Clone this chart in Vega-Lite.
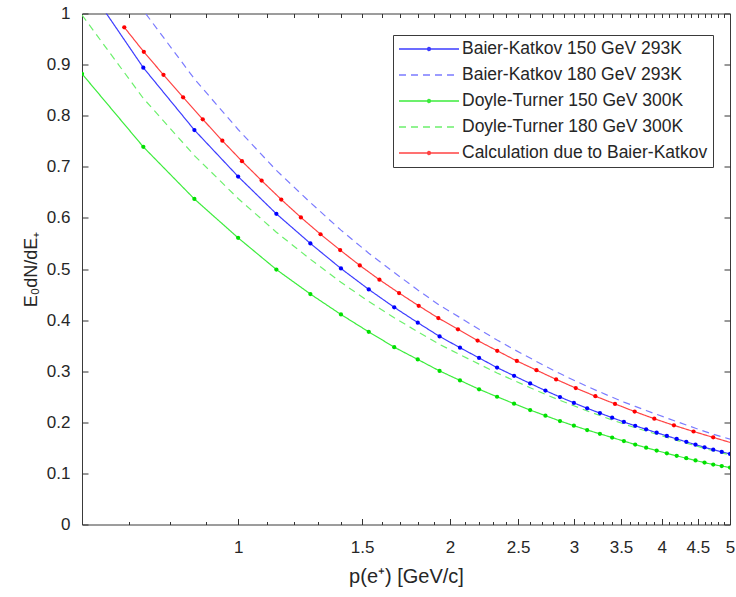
{
  "$schema": "https://vega.github.io/schema/vega-lite/v6.json",
  "width": 648,
  "height": 511,
  "autosize": {"type": "none"},
  "padding": {"left": 82, "top": 13.5, "right": 6, "bottom": 72.5},
  "background": "white",
  "config": {
    "view": {"stroke": "#3a3a3a", "strokeWidth": 1},
    "axis": {"grid": false, "domain": false, "tickColor": "#333333", "tickWidth": 1, "labelColor": "#262626", "labelFont": "Liberation Sans", "labelFontSize": 17, "titleFont": "Liberation Sans", "titleFontWeight": "normal", "titleColor": "#262626"}
  },
  "datasets": {
    "curves": [
      {"series": "Baier-Katkov 150 GeV 293K", "p": 0.6, "e": 1.07},
      {"series": "Baier-Katkov 150 GeV 293K", "p": 0.7333, "e": 0.894},
      {"series": "Baier-Katkov 150 GeV 293K", "p": 0.8667, "e": 0.772},
      {"series": "Baier-Katkov 150 GeV 293K", "p": 1.0, "e": 0.681},
      {"series": "Baier-Katkov 150 GeV 293K", "p": 1.1333, "e": 0.608},
      {"series": "Baier-Katkov 150 GeV 293K", "p": 1.2667, "e": 0.55},
      {"series": "Baier-Katkov 150 GeV 293K", "p": 1.4, "e": 0.501},
      {"series": "Baier-Katkov 150 GeV 293K", "p": 1.5333, "e": 0.46},
      {"series": "Baier-Katkov 150 GeV 293K", "p": 1.6667, "e": 0.425},
      {"series": "Baier-Katkov 150 GeV 293K", "p": 1.8, "e": 0.395},
      {"series": "Baier-Katkov 150 GeV 293K", "p": 1.9333, "e": 0.368},
      {"series": "Baier-Katkov 150 GeV 293K", "p": 2.0667, "e": 0.346},
      {"series": "Baier-Katkov 150 GeV 293K", "p": 2.2, "e": 0.326},
      {"series": "Baier-Katkov 150 GeV 293K", "p": 2.3333, "e": 0.307},
      {"series": "Baier-Katkov 150 GeV 293K", "p": 2.4667, "e": 0.291},
      {"series": "Baier-Katkov 150 GeV 293K", "p": 2.6, "e": 0.276},
      {"series": "Baier-Katkov 150 GeV 293K", "p": 2.7333, "e": 0.262},
      {"series": "Baier-Katkov 150 GeV 293K", "p": 2.8667, "e": 0.2495},
      {"series": "Baier-Katkov 150 GeV 293K", "p": 3.0, "e": 0.238},
      {"series": "Baier-Katkov 150 GeV 293K", "p": 3.1333, "e": 0.2274},
      {"series": "Baier-Katkov 150 GeV 293K", "p": 3.2667, "e": 0.218},
      {"series": "Baier-Katkov 150 GeV 293K", "p": 3.4, "e": 0.209},
      {"series": "Baier-Katkov 150 GeV 293K", "p": 3.5333, "e": 0.2006},
      {"series": "Baier-Katkov 150 GeV 293K", "p": 3.6667, "e": 0.1932},
      {"series": "Baier-Katkov 150 GeV 293K", "p": 3.8, "e": 0.1862},
      {"series": "Baier-Katkov 150 GeV 293K", "p": 3.9333, "e": 0.1796},
      {"series": "Baier-Katkov 150 GeV 293K", "p": 4.0667, "e": 0.1734},
      {"series": "Baier-Katkov 150 GeV 293K", "p": 4.2, "e": 0.1674},
      {"series": "Baier-Katkov 150 GeV 293K", "p": 4.3333, "e": 0.1617},
      {"series": "Baier-Katkov 150 GeV 293K", "p": 4.4667, "e": 0.1562},
      {"series": "Baier-Katkov 150 GeV 293K", "p": 4.6, "e": 0.151},
      {"series": "Baier-Katkov 150 GeV 293K", "p": 4.7333, "e": 0.1463},
      {"series": "Baier-Katkov 150 GeV 293K", "p": 4.8667, "e": 0.142},
      {"series": "Baier-Katkov 150 GeV 293K", "p": 5.0, "e": 0.138},
      {"series": "Baier-Katkov 180 GeV 293K", "p": 0.6, "e": 1.198},
      {"series": "Baier-Katkov 180 GeV 293K", "p": 0.7333, "e": 1.006},
      {"series": "Baier-Katkov 180 GeV 293K", "p": 0.8667, "e": 0.872},
      {"series": "Baier-Katkov 180 GeV 293K", "p": 1.0, "e": 0.773},
      {"series": "Baier-Katkov 180 GeV 293K", "p": 1.1333, "e": 0.693},
      {"series": "Baier-Katkov 180 GeV 293K", "p": 1.2667, "e": 0.63},
      {"series": "Baier-Katkov 180 GeV 293K", "p": 1.4, "e": 0.576},
      {"series": "Baier-Katkov 180 GeV 293K", "p": 1.5333, "e": 0.531},
      {"series": "Baier-Katkov 180 GeV 293K", "p": 1.6667, "e": 0.493},
      {"series": "Baier-Katkov 180 GeV 293K", "p": 1.8, "e": 0.459},
      {"series": "Baier-Katkov 180 GeV 293K", "p": 1.9333, "e": 0.429},
      {"series": "Baier-Katkov 180 GeV 293K", "p": 2.0667, "e": 0.405},
      {"series": "Baier-Katkov 180 GeV 293K", "p": 2.2, "e": 0.382},
      {"series": "Baier-Katkov 180 GeV 293K", "p": 2.3333, "e": 0.361},
      {"series": "Baier-Katkov 180 GeV 293K", "p": 2.4667, "e": 0.3425},
      {"series": "Baier-Katkov 180 GeV 293K", "p": 2.6, "e": 0.3257},
      {"series": "Baier-Katkov 180 GeV 293K", "p": 2.7333, "e": 0.3097},
      {"series": "Baier-Katkov 180 GeV 293K", "p": 2.8667, "e": 0.2954},
      {"series": "Baier-Katkov 180 GeV 293K", "p": 3.0, "e": 0.2823},
      {"series": "Baier-Katkov 180 GeV 293K", "p": 3.1333, "e": 0.2702},
      {"series": "Baier-Katkov 180 GeV 293K", "p": 3.2667, "e": 0.2594},
      {"series": "Baier-Katkov 180 GeV 293K", "p": 3.4, "e": 0.2491},
      {"series": "Baier-Katkov 180 GeV 293K", "p": 3.5333, "e": 0.2395},
      {"series": "Baier-Katkov 180 GeV 293K", "p": 3.6667, "e": 0.2311},
      {"series": "Baier-Katkov 180 GeV 293K", "p": 3.8, "e": 0.2231},
      {"series": "Baier-Katkov 180 GeV 293K", "p": 3.9333, "e": 0.2155},
      {"series": "Baier-Katkov 180 GeV 293K", "p": 4.0667, "e": 0.2084},
      {"series": "Baier-Katkov 180 GeV 293K", "p": 4.2, "e": 0.2014},
      {"series": "Baier-Katkov 180 GeV 293K", "p": 4.3333, "e": 0.1948},
      {"series": "Baier-Katkov 180 GeV 293K", "p": 4.4667, "e": 0.1884},
      {"series": "Baier-Katkov 180 GeV 293K", "p": 4.6, "e": 0.1823},
      {"series": "Baier-Katkov 180 GeV 293K", "p": 4.7333, "e": 0.1767},
      {"series": "Baier-Katkov 180 GeV 293K", "p": 4.8667, "e": 0.1717},
      {"series": "Baier-Katkov 180 GeV 293K", "p": 5.0, "e": 0.167},
      {"series": "Doyle-Turner 150 GeV 300K", "p": 0.6, "e": 0.882},
      {"series": "Doyle-Turner 150 GeV 300K", "p": 0.7333, "e": 0.739},
      {"series": "Doyle-Turner 150 GeV 300K", "p": 0.8667, "e": 0.637},
      {"series": "Doyle-Turner 150 GeV 300K", "p": 1.0, "e": 0.561},
      {"series": "Doyle-Turner 150 GeV 300K", "p": 1.1333, "e": 0.499},
      {"series": "Doyle-Turner 150 GeV 300K", "p": 1.2667, "e": 0.451},
      {"series": "Doyle-Turner 150 GeV 300K", "p": 1.4, "e": 0.411},
      {"series": "Doyle-Turner 150 GeV 300K", "p": 1.5333, "e": 0.377},
      {"series": "Doyle-Turner 150 GeV 300K", "p": 1.6667, "e": 0.347},
      {"series": "Doyle-Turner 150 GeV 300K", "p": 1.8, "e": 0.323},
      {"series": "Doyle-Turner 150 GeV 300K", "p": 1.9333, "e": 0.3005},
      {"series": "Doyle-Turner 150 GeV 300K", "p": 2.0667, "e": 0.282},
      {"series": "Doyle-Turner 150 GeV 300K", "p": 2.2, "e": 0.2646},
      {"series": "Doyle-Turner 150 GeV 300K", "p": 2.3333, "e": 0.25},
      {"series": "Doyle-Turner 150 GeV 300K", "p": 2.4667, "e": 0.2364},
      {"series": "Doyle-Turner 150 GeV 300K", "p": 2.6, "e": 0.224},
      {"series": "Doyle-Turner 150 GeV 300K", "p": 2.7333, "e": 0.213},
      {"series": "Doyle-Turner 150 GeV 300K", "p": 2.8667, "e": 0.2025},
      {"series": "Doyle-Turner 150 GeV 300K", "p": 3.0, "e": 0.1934},
      {"series": "Doyle-Turner 150 GeV 300K", "p": 3.1333, "e": 0.1849},
      {"series": "Doyle-Turner 150 GeV 300K", "p": 3.2667, "e": 0.1774},
      {"series": "Doyle-Turner 150 GeV 300K", "p": 3.4, "e": 0.1702},
      {"series": "Doyle-Turner 150 GeV 300K", "p": 3.5333, "e": 0.1632},
      {"series": "Doyle-Turner 150 GeV 300K", "p": 3.6667, "e": 0.1565},
      {"series": "Doyle-Turner 150 GeV 300K", "p": 3.8, "e": 0.1503},
      {"series": "Doyle-Turner 150 GeV 300K", "p": 3.9333, "e": 0.1446},
      {"series": "Doyle-Turner 150 GeV 300K", "p": 4.0667, "e": 0.1393},
      {"series": "Doyle-Turner 150 GeV 300K", "p": 4.2, "e": 0.1343},
      {"series": "Doyle-Turner 150 GeV 300K", "p": 4.3333, "e": 0.1297},
      {"series": "Doyle-Turner 150 GeV 300K", "p": 4.4667, "e": 0.1253},
      {"series": "Doyle-Turner 150 GeV 300K", "p": 4.6, "e": 0.1211},
      {"series": "Doyle-Turner 150 GeV 300K", "p": 4.7333, "e": 0.1173},
      {"series": "Doyle-Turner 150 GeV 300K", "p": 4.8667, "e": 0.1143},
      {"series": "Doyle-Turner 150 GeV 300K", "p": 5.0, "e": 0.1115},
      {"series": "Doyle-Turner 180 GeV 300K", "p": 0.6, "e": 0.997},
      {"series": "Doyle-Turner 180 GeV 300K", "p": 0.7333, "e": 0.834},
      {"series": "Doyle-Turner 180 GeV 300K", "p": 0.8667, "e": 0.722},
      {"series": "Doyle-Turner 180 GeV 300K", "p": 1.0, "e": 0.638},
      {"series": "Doyle-Turner 180 GeV 300K", "p": 1.1333, "e": 0.572},
      {"series": "Doyle-Turner 180 GeV 300K", "p": 1.2667, "e": 0.519},
      {"series": "Doyle-Turner 180 GeV 300K", "p": 1.4, "e": 0.474},
      {"series": "Doyle-Turner 180 GeV 300K", "p": 1.5333, "e": 0.4365},
      {"series": "Doyle-Turner 180 GeV 300K", "p": 1.6667, "e": 0.4046},
      {"series": "Doyle-Turner 180 GeV 300K", "p": 1.8, "e": 0.3772},
      {"series": "Doyle-Turner 180 GeV 300K", "p": 1.9333, "e": 0.3525},
      {"series": "Doyle-Turner 180 GeV 300K", "p": 2.0667, "e": 0.3322},
      {"series": "Doyle-Turner 180 GeV 300K", "p": 2.2, "e": 0.3139},
      {"series": "Doyle-Turner 180 GeV 300K", "p": 2.3333, "e": 0.2966},
      {"series": "Doyle-Turner 180 GeV 300K", "p": 2.4667, "e": 0.2817},
      {"series": "Doyle-Turner 180 GeV 300K", "p": 2.6, "e": 0.2677},
      {"series": "Doyle-Turner 180 GeV 300K", "p": 2.7333, "e": 0.2547},
      {"series": "Doyle-Turner 180 GeV 300K", "p": 2.8667, "e": 0.243},
      {"series": "Doyle-Turner 180 GeV 300K", "p": 3.0, "e": 0.2323},
      {"series": "Doyle-Turner 180 GeV 300K", "p": 3.1333, "e": 0.2222},
      {"series": "Doyle-Turner 180 GeV 300K", "p": 3.2667, "e": 0.2132},
      {"series": "Doyle-Turner 180 GeV 300K", "p": 3.4, "e": 0.2046},
      {"series": "Doyle-Turner 180 GeV 300K", "p": 3.5333, "e": 0.1966},
      {"series": "Doyle-Turner 180 GeV 300K", "p": 3.6667, "e": 0.1895},
      {"series": "Doyle-Turner 180 GeV 300K", "p": 3.8, "e": 0.1829},
      {"series": "Doyle-Turner 180 GeV 300K", "p": 3.9333, "e": 0.1767},
      {"series": "Doyle-Turner 180 GeV 300K", "p": 4.0667, "e": 0.1706},
      {"series": "Doyle-Turner 180 GeV 300K", "p": 4.2, "e": 0.1647},
      {"series": "Doyle-Turner 180 GeV 300K", "p": 4.3333, "e": 0.1593},
      {"series": "Doyle-Turner 180 GeV 300K", "p": 4.4667, "e": 0.154},
      {"series": "Doyle-Turner 180 GeV 300K", "p": 4.6, "e": 0.1489},
      {"series": "Doyle-Turner 180 GeV 300K", "p": 4.7333, "e": 0.1443},
      {"series": "Doyle-Turner 180 GeV 300K", "p": 4.8667, "e": 0.1401},
      {"series": "Doyle-Turner 180 GeV 300K", "p": 5.0, "e": 0.1362},
      {"series": "Calculation due to Baier-Katkov", "p": 0.689, "e": 0.973},
      {"series": "Calculation due to Baier-Katkov", "p": 0.7345, "e": 0.925},
      {"series": "Calculation due to Baier-Katkov", "p": 0.7833, "e": 0.88},
      {"series": "Calculation due to Baier-Katkov", "p": 0.8353, "e": 0.836},
      {"series": "Calculation due to Baier-Katkov", "p": 0.8907, "e": 0.793},
      {"series": "Calculation due to Baier-Katkov", "p": 0.9497, "e": 0.751},
      {"series": "Calculation due to Baier-Katkov", "p": 1.0127, "e": 0.711},
      {"series": "Calculation due to Baier-Katkov", "p": 1.0799, "e": 0.673},
      {"series": "Calculation due to Baier-Katkov", "p": 1.1516, "e": 0.636},
      {"series": "Calculation due to Baier-Katkov", "p": 1.228, "e": 0.601},
      {"series": "Calculation due to Baier-Katkov", "p": 1.3095, "e": 0.568},
      {"series": "Calculation due to Baier-Katkov", "p": 1.3964, "e": 0.537},
      {"series": "Calculation due to Baier-Katkov", "p": 1.489, "e": 0.507},
      {"series": "Calculation due to Baier-Katkov", "p": 1.5878, "e": 0.479},
      {"series": "Calculation due to Baier-Katkov", "p": 1.6932, "e": 0.453},
      {"series": "Calculation due to Baier-Katkov", "p": 1.8055, "e": 0.428},
      {"series": "Calculation due to Baier-Katkov", "p": 1.9253, "e": 0.404},
      {"series": "Calculation due to Baier-Katkov", "p": 2.053, "e": 0.382},
      {"series": "Calculation due to Baier-Katkov", "p": 2.1892, "e": 0.36},
      {"series": "Calculation due to Baier-Katkov", "p": 2.3345, "e": 0.34},
      {"series": "Calculation due to Baier-Katkov", "p": 2.4893, "e": 0.32},
      {"series": "Calculation due to Baier-Katkov", "p": 2.6546, "e": 0.302},
      {"series": "Calculation due to Baier-Katkov", "p": 2.8307, "e": 0.284},
      {"series": "Calculation due to Baier-Katkov", "p": 3.0185, "e": 0.267},
      {"series": "Calculation due to Baier-Katkov", "p": 3.2188, "e": 0.251},
      {"series": "Calculation due to Baier-Katkov", "p": 3.4323, "e": 0.236},
      {"series": "Calculation due to Baier-Katkov", "p": 3.6601, "e": 0.221},
      {"series": "Calculation due to Baier-Katkov", "p": 3.9029, "e": 0.207},
      {"series": "Calculation due to Baier-Katkov", "p": 4.1619, "e": 0.194},
      {"series": "Calculation due to Baier-Katkov", "p": 4.438, "e": 0.182},
      {"series": "Calculation due to Baier-Katkov", "p": 4.7325, "e": 0.1705},
      {"series": "Calculation due to Baier-Katkov", "p": 5.0465, "e": 0.159}
    ]
  },
  "data": {"name": "curves"},
  "layer": [
    {
      "mark": {"type": "line", "clip": true, "strokeWidth": 1.2},
      "encoding": {
        "x": {"field": "p", "type": "quantitative",
          "scale": {"type": "log", "domain": [0.6, 5], "nice": false},
          "axis": {"orient": "bottom", "values": [1, 1.5, 2, 2.5, 3, 3.5, 4, 4.5, 5], "format": "~g", "tickSize": -6, "labelPadding": 21, "title": "p(e⁺) [GeV/c]", "titleFontSize": 20, "titlePadding": 11, "labelFlush": false}},
        "y": {"field": "e", "type": "quantitative",
          "scale": {"domain": [0, 1], "nice": false},
          "axis": {"orient": "left", "values": [0, 0.1, 0.2, 0.3, 0.4, 0.5, 0.6, 0.7, 0.8, 0.9, 1], "format": ".1~f", "tickSize": -6, "labelPadding": 18, "title": "E₀dN/dE₊", "titleFontSize": 18, "titlePadding": 6, "labelFlush": false}},
        "color": {"field": "series", "type": "nominal",
          "scale": {"domain": ["Baier-Katkov 150 GeV 293K", "Baier-Katkov 180 GeV 293K", "Doyle-Turner 150 GeV 300K", "Doyle-Turner 180 GeV 300K", "Calculation due to Baier-Katkov"],
                    "range": ["#3d3dff", "#7b7bff", "#3cec3c", "#6cf06c", "#ff4343"]},
          "legend": {"title": null, "orient": "none", "legendX": 311, "legendY": 21.5, "symbolType": "stroke", "symbolSize": 3600, "symbolStrokeWidth": 1.3, "clipHeight": 18, "rowPadding": 8, "padding": 5, "labelOffset": 2, "labelFont": "Liberation Sans", "labelFontSize": 17.5, "labelColor": "#262626", "labelLimit": 400, "strokeColor": "#3a3a3a", "fillColor": "white",
            "encode": {"symbols": {"update": {
              "strokeDash": {"signal": "indexof(datum.label, '180') >= 0 ? [7, 5] : [1, 0]"},
              "shape": {"signal": "indexof(datum.label, '180') >= 0 ? 'stroke' : 'M-1,0H1M-0.05,0A0.05,0.05,0,1,1,0.05,0A0.05,0.05,0,1,1,-0.05,0'"}
            }}}}},
        "strokeDash": {"field": "series", "type": "nominal",
          "scale": {"domain": ["Baier-Katkov 150 GeV 293K", "Baier-Katkov 180 GeV 293K", "Doyle-Turner 150 GeV 300K", "Doyle-Turner 180 GeV 300K", "Calculation due to Baier-Katkov"],
                    "range": [[1, 0], [7, 5], [1, 0], [7, 5], [1, 0]]},
          "legend": null}
      }
    },
    {
      "transform": [
        {"filter": {"field": "series", "oneOf": ["Baier-Katkov 150 GeV 293K", "Doyle-Turner 150 GeV 300K", "Calculation due to Baier-Katkov"]}},
        {"filter": "datum.p <= 5"}
      ],
      "mark": {"type": "point", "filled": true, "size": 18, "opacity": 1, "clip": true},
      "encoding": {
        "x": {"field": "p", "type": "quantitative",
          "axis": {"orient": "top", "values": [0.7, 0.8, 0.9, 1, 1.1, 1.2, 1.3, 1.4, 1.5, 1.6, 1.7, 1.8, 1.9, 2, 2.1, 2.2, 2.3, 2.4, 2.5, 2.6, 2.7, 2.8, 2.9, 3, 3.1, 3.2, 3.3, 3.4, 3.5, 3.6, 3.7, 3.8, 3.9, 4, 4.1, 4.2, 4.3, 4.4, 4.5, 4.6, 4.7, 4.8, 4.9], "labels": false, "tickSize": -4, "title": null}},
        "y": {"field": "e", "type": "quantitative",
          "axis": {"orient": "right", "values": [0, 0.1, 0.2, 0.3, 0.4, 0.5, 0.6, 0.7, 0.8, 0.9, 1], "labels": false, "tickSize": -6, "title": null}},
        "color": {"field": "series", "type": "nominal",
          "scale": {"domain": ["Baier-Katkov 150 GeV 293K", "Doyle-Turner 150 GeV 300K", "Calculation due to Baier-Katkov"],
                    "range": ["#0000ff", "#00e000", "#ff0000"]},
          "legend": null}
      }
    },
    {
      "mark": {"type": "point", "opacity": 0},
      "encoding": {
        "x": {"field": "p", "type": "quantitative",
          "axis": {"orient": "bottom", "values": [0.7, 0.8, 0.9, 1.1, 1.2, 1.3, 1.4, 1.6, 1.7, 1.8, 1.9, 2.1, 2.2, 2.3, 2.4, 2.6, 2.7, 2.8, 2.9, 3.1, 3.2, 3.3, 3.4, 3.6, 3.7, 3.8, 3.9, 4.1, 4.2, 4.3, 4.4, 4.6, 4.7, 4.8, 4.9], "labels": false, "tickSize": -3, "title": null}}
      }
    }
  ],
  "resolve": {"axis": {"x": "independent", "y": "independent"}, "scale": {"color": "independent"}}
}
